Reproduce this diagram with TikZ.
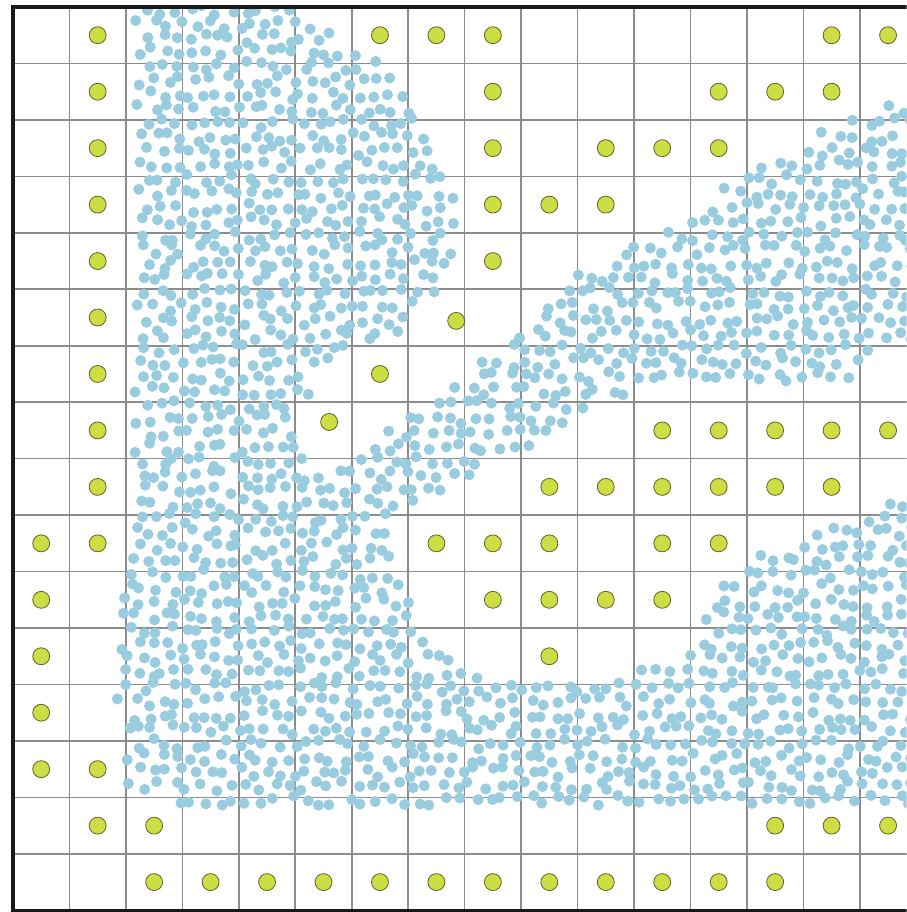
\documentclass[tikz,border=0pt]{standalone}
\usepackage{tikz}

\definecolor{dotblue}{RGB}{153,204,222}
\definecolor{seedgreen}{RGB}{205,221,68}
\definecolor{seededge}{RGB}{96,96,40}
\definecolor{gridgray}{RGB}{140,140,140}

\tikzset{
  bluedot/.style={fill=dotblue},
  seeddot/.style={fill=seedgreen, draw=seededge, line width=0.4pt},
  cellline/.style={draw=gridgray, line width=0.8pt},
  outerframe/.style={draw=black!90, line width=1.7pt, line join=miter}
}

\begin{document}
\begin{tikzpicture}[x=1cm, y=-1cm]
  \useasboundingbox (-0.23,-0.124) rectangle (15.83,16.03);
  \clip (-0.23,-0.124) rectangle (15.83,16.03);

  % Cell grid
  \foreach \i in {1,...,16}
    \draw[cellline] (\i,0) -- (\i,16);
  \foreach \j in {1,...,15}
    \draw[cellline] (0,\j) -- (16,\j);

  % Samples: one row of jittered points every quarter cell, spans in cells
  \pgfmathsetseed{42}
  \begin{scope}
    \clip (0,0) rectangle (16,16);
    \foreach \r/\spans [count=\k] in {
        0.05/{2.25/5.1}, 0.30/{2.25/5.45}, 0.55/{2.25/5.7}, 0.80/{2.25/6.05},
        1.05/{2.25/6.6}, 1.30/{2.25/6.8}, 1.55/{2.25/6.9},
        1.80/{2.25/7.0, 15.45/16}, 2.05/{2.25/7.2, 14.8/16},
        2.30/{2.25/7.35, 14.4/16}, 2.55/{2.25/7.5, 13.95/16},
        2.80/{2.25/7.65, 13.3/16}, 3.05/{2.25/7.8, 12.9/16},
        3.30/{2.25/7.82, 12.6/16}, 3.55/{2.25/7.82, 12.35/16},
        3.80/{2.25/7.82, 12.0/16}, 4.05/{2.25/7.82, 11.5/16},
        4.30/{2.25/7.82, 10.8/16}, 4.55/{2.25/7.72, 10.55/16},
        4.80/{2.25/7.55, 9.95/16}, 5.05/{2.25/7.4, 9.66/16},
        5.30/{2.25/7.2, 9.47/16}, 5.55/{2.25/6.98, 9.24/16},
        5.80/{2.25/6.75, 8.97/16}, 6.05/{2.25/6.0, 8.68/15.1},
        6.30/{2.25/5.5, 8.38/14.95}, 6.55/{2.25/5.3, 8.15/14.9},
        6.80/{2.25/5.3, 7.85/11.0}, 7.05/{2.25/5.1, 7.4/10.2},
        7.30/{2.25/4.86, 7.0/9.75}, 7.55/{2.25/4.9, 6.55/9.55},
        7.80/{2.25/5.1, 6.35/9.3}, 8.05/{2.25/5.3, 6.1/8.4},
        8.30/{2.25/8.2}, 8.55/{2.25/7.7},
        8.80/{2.25/7.15, 15.5/16}, 9.05/{2.15/6.75, 15.1/16},
        9.30/{2.15/6.7, 14.25/16}, 9.55/{2.15/6.67, 13.9/16},
        9.80/{2.15/6.7, 13.16/16}, 10.05/{2.05/6.8, 12.85/16},
        10.30/{2.05/6.95, 12.55/16}, 10.55/{1.92/7.05, 12.3/16},
        10.80/{1.92/7.0, 12.3/16}, 11.05/{1.92/7.1, 12.3/16},
        11.30/{1.92/7.4, 12.2/16}, 11.55/{1.92/7.9, 11.95/16},
        11.80/{1.92/8.3, 11.2/16},
        12.05/{1.92/16}, 12.30/{1.92/16}, 12.55/{2.0/16}, 12.80/{2.0/16},
        13.05/{2.1/16}, 13.30/{2.1/16}, 13.55/{2.1/16}, 13.80/{2.1/16},
        14.05/{2.8/16}}{
      \pgfmathsetmacro\rowshift{0.125*mod(\k,2)}
      \foreach \xa/\xb in \spans {
        \pgfmathsetmacro\xs{\xa+\rowshift}
        \pgfmathsetmacro\xn{\xs+0.25}
        \foreach \x in {\xs,\xn,...,\xb}
          \fill[bluedot] ({\x+0.09*rand},{\r+0.09*rand}) circle (0.098);
      }
    }
  \end{scope}

  % Seeds in the empty cells
  \foreach \row/\cols in {0/{1,6,7,8,14,15}, 1/{1,8,12,13,14}, 2/{1,8,10,11,12},
      3/{1,8,9,10}, 4/{1,8}, 5/{1}, 6/{1,6}, 7/{1,11,12,13,14,15},
      8/{1,9,10,11,12,13,14}, 9/{0,1,7,8,9,11,12}, 10/{0,8,9,10,11},
      11/{0,9}, 12/{0}, 13/{0,1}, 14/{1,2,13,14,15}, 15/{2,3,...,13}}
    \foreach \col in \cols
      \filldraw[seeddot] ({\col+0.5},{\row+0.5}) circle (0.15);
  \filldraw[seeddot] (7.85,5.56) circle (0.15);
  \filldraw[seeddot] (5.6,7.35) circle (0.15);

  % Frame
  \draw[outerframe] (16,0) -- (0,0) -- (0,16) -- (16,16);
\end{tikzpicture}
\end{document}
